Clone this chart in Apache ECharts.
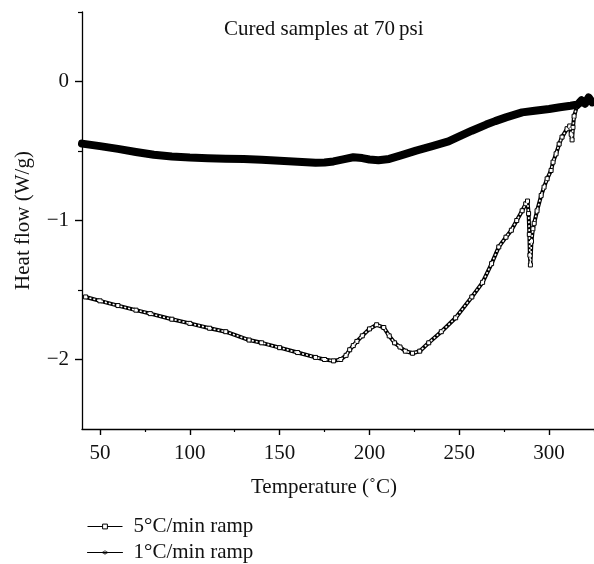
<!DOCTYPE html>
<html>
<head>
<meta charset="utf-8">
<script src="https://cdn.jsdelivr.net/npm/echarts@6/dist/echarts.min.js"></script>
<style>html,body{margin:0;padding:0;background:#fff;}#chart{width:594px;height:564px;}</style>
</head>
<body>
<div id="chart"></div>
<script>
// ---- data ----
const seriesNames = ['5°C/min ramp', '1°C/min ramp'];
const temp5 = [42,50,60,70,78,90,100,111,120,133,140,150,160,170,175,180,184,187,189,191,193,196,200,204,208,211,214,217,220,224,228,233,240,248,257,263,268,272,276,279,282,285,287,288,288.6,289,289.3,289.6,290.2,291,291.7,293.3,295.6,297.2,298.9,301.1,302.2,303.9,305.6,307.2,310,311.5,312.3,312.8,313.3,313.9,315.5,318,321,324];
const heat5 = [-1.55,-1.578,-1.612,-1.645,-1.67,-1.71,-1.74,-1.775,-1.80,-1.86,-1.88,-1.915,-1.95,-1.985,-2.0,-2.01,-2.0,-1.97,-1.93,-1.9,-1.87,-1.83,-1.78,-1.75,-1.77,-1.83,-1.88,-1.91,-1.94,-1.955,-1.94,-1.88,-1.8,-1.70,-1.55,-1.445,-1.31,-1.19,-1.12,-1.07,-1.0,-0.93,-0.88,-0.86,-0.95,-1.1,-1.25,-1.32,-1.15,-1.06,-1.02,-0.93,-0.82,-0.76,-0.70,-0.64,-0.58,-0.52,-0.45,-0.40,-0.34,-0.32,-0.38,-0.42,-0.33,-0.25,-0.18,-0.16,-0.15,-0.14];
const temp1 = [40,50,60,70,80,90,100,110,120,130,140,150,160,170,175,180,186,191,196,200,205,211,218,226,235,244,250,257,265,270,276,285,292,300,306,312,316,318,320,322,324];
const heat1 = [-0.447,-0.465,-0.485,-0.507,-0.527,-0.539,-0.547,-0.552,-0.555,-0.557,-0.563,-0.57,-0.578,-0.585,-0.583,-0.575,-0.558,-0.545,-0.551,-0.561,-0.566,-0.557,-0.53,-0.497,-0.465,-0.431,-0.395,-0.354,-0.31,-0.285,-0.258,-0.222,-0.21,-0.198,-0.185,-0.174,-0.165,-0.135,-0.16,-0.115,-0.15];
const xMajorTicks = [50,100,150,200,250,300];
const xMinorTicks = [75,125,175,225,275,325];
const yMajorTicks = [0,-1,-2];
const yMinorTicks = [0.5,-0.5,-1.5];
const titleText = 'Cured samples at 70\u2009psi';
const xName = 'Temperature (\u02DAC)';
const yName = 'Heat flow (W/g)';

const FONT = '"Liberation Serif", "DejaVu Serif", serif';
const data5 = temp5.map((t,i)=>[t, heat5[i]]);
const data1 = temp1.map((t,i)=>[t, heat1[i]]);
const asterisk = 'path://M4.4,0L5.6,0L5.6,10L4.4,10Z M0.97,1.98L9.63,6.98L9.03,8.02L0.37,3.02Z M0.37,6.98L9.03,1.98L9.63,3.02L0.97,8.02Z';
const fmt = v => v < 0 ? '\u2212' + Math.abs(v) : String(v);

const chart = echarts.init(document.getElementById('chart'), null, {renderer:'canvas'});
chart.setOption({
  animation: false,
  backgroundColor: '#fff',
  title: {
    text: titleText, left: 219, top: 14,
    textStyle: {fontFamily: FONT, fontSize: 21, fontWeight: 'normal', color: '#111'}
  },
  legend: {
    orient: 'vertical', left: 82, top: 511, height: 80,
    itemWidth: 35, itemHeight: 6, itemGap: 5,
    textStyle: {fontFamily: FONT, fontSize: 21, color: '#111', padding: [0,0,0,6]},
    lineStyle: {color: '#000', width: 1},
    data: [
      {name: seriesNames[0], itemStyle: {color: '#fff', borderColor: '#000', borderWidth: 1}},
      {name: seriesNames[1], itemStyle: {color: '#000', borderWidth: 0}}
    ]
  },
  grid: {left: 82, top: 12, width: 513, height: 417},
  xAxis: [
    {
      type: 'value', min: 40, max: 325,
      name: xName, nameLocation: 'middle', nameGap: 48,
      nameTextStyle: {fontFamily: FONT, fontSize: 21, color: '#111', padding: [0, 28, 0, 0]},
      axisLine: {onZero: false, lineStyle: {color: '#000', width: 1.3}},
      axisTick: {show: true, inside: false, length: 6, customValues: xMajorTicks, lineStyle: {color: '#000', width: 1.4}},
      axisLabel: {customValues: xMajorTicks, fontFamily: FONT, fontSize: 21, color: '#111', margin: 14},
      splitLine: {show: false}
    },
    {
      type: 'value', min: 40, max: 325, position: 'bottom',
      axisLine: {show: false, onZero: false},
      axisTick: {show: true, length: 3, customValues: xMinorTicks, lineStyle: {color: '#000', width: 1.2}},
      axisLabel: {show: false},
      splitLine: {show: false}
    }
  ],
  yAxis: [
    {
      type: 'value', min: -2.5, max: 0.5,
      name: yName, nameLocation: 'middle', nameGap: 48,
      nameTextStyle: {fontFamily: FONT, fontSize: 21, color: '#111'},
      axisLine: {show: true, onZero: false, lineStyle: {color: '#000', width: 1.3}},
      axisTick: {show: true, length: 7, customValues: yMajorTicks, lineStyle: {color: '#000', width: 1.4}},
      axisLabel: {customValues: yMajorTicks, formatter: fmt, fontFamily: FONT, fontSize: 21, color: '#111', margin: 13},
      splitLine: {show: false}
    },
    {
      type: 'value', min: -2.5, max: 0.5, position: 'left',
      axisLine: {show: false, onZero: false},
      axisTick: {show: true, length: 4, customValues: yMinorTicks, lineStyle: {color: '#000', width: 1.2}},
      axisLabel: {show: false},
      splitLine: {show: false}
    }
  ],
  series: [
    {
      name: seriesNames[0], type: 'line', data: data5,
      symbol: 'rect', symbolSize: 4, showSymbol: true,
      itemStyle: {color: '#fff', borderColor: '#000', borderWidth: 1},
      lineStyle: {color: '#000', width: 4},
      z: 2
    },
    {
      name: '_overlay', type: 'line', data: data5, silent: true,
      symbol: 'none',
      lineStyle: {color: '#fff', width: 1.6, type: [2, 2]},
      z: 3
    },
    {
      name: seriesNames[1], type: 'line', data: data1,
      symbol: asterisk, showSymbol: false,
      itemStyle: {color: '#000'},
      lineStyle: {color: '#000', width: 8, cap: 'round', join: 'round'},
      z: 4
    }
  ]
});
</script>
</body>
</html>
